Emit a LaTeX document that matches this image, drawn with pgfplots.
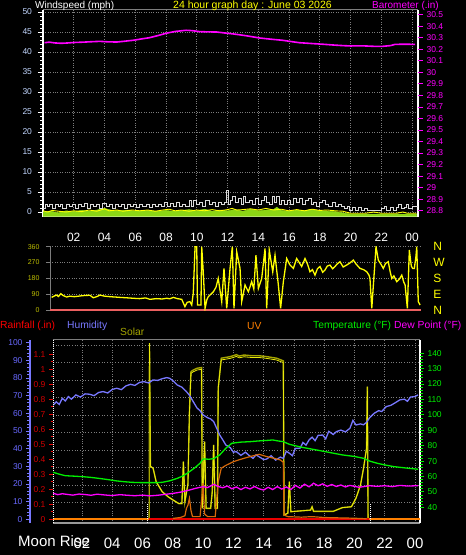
\documentclass[border=0pt]{standalone}
\usepackage{fontspec}
\setmainfont{Liberation Sans}
\usepackage{pgfplots}
\pgfplotsset{compat=1.18}
\definecolor{wblue}{RGB}{195,215,255}
\definecolor{hum}{RGB}{120,120,255}
\definecolor{humlab}{RGB}{105,105,255}
\definecolor{tempc}{RGB}{0,240,0}
\definecolor{dewc}{RGB}{255,0,255}
\definecolor{solc}{RGB}{235,235,10}
\definecolor{olivec}{RGB}{165,165,0}
\definecolor{uvc}{RGB}{215,105,10}
\definecolor{uvlab}{RGB}{255,128,0}
\definecolor{rainc}{RGB}{235,0,0}
\definecolor{rainlab}{RGB}{210,0,0}
\definecolor{gustc}{RGB}{220,220,220}
\definecolor{wgreen}{RGB}{140,215,20}
\definecolor{dirred}{RGB}{235,95,95}
\definecolor{gridc}{RGB}{125,125,125}
\definecolor{dirlab}{RGB}{190,190,0}
\definecolor{magc}{RGB}{255,0,255}
\definecolor{yel}{RGB}{255,255,0}
\pgfplotsset{
  panel/.style={scale only axis, anchor=south west,
    /pgf/number format/assume math mode=true,
    tick align=outside, clip mode=individual},
}
\begin{document}
\begin{tikzpicture}
\path[use as bounding box] (0pt,0pt) rectangle (466pt,555pt);
\fill[black] (0pt,0pt) rectangle (466pt,555pt);

% ---------------- TOP PANEL: wind ----------------
\begin{axis}[panel, at={(43pt,338.3pt)}, width=375pt, height=206.7pt,
  xmin=0, xmax=24.39, ymin=-1.17, ymax=50.5,
  axis line style={draw=none},
  xtick={2,4,...,24}, xticklabels={02,04,06,08,10,12,14,16,18,20,22,00},
  xtick style={draw=none}, xtick pos=bottom, ytick pos=left,
  xticklabel style={white, font=\fontsize{12}{12}\selectfont, yshift=-8pt},
  ytick={0,5,...,50}, minor y tick num=4,
  ytick style={white, line width=0.8pt},
  major tick length=5pt, minor tick length=3pt,
  yticklabel style={wblue, font=\fontsize{8.5}{8.5}\selectfont, xshift=-2.5pt},
  grid=major, grid style={gridc, dotted, line width=0.7pt},
]
\draw[gridc, line width=1pt] (rel axis cs:0,1) -- (rel axis cs:1,1);
\draw[white, line width=1.4pt] (rel axis cs:0,1) -- (rel axis cs:0,0) -- (rel axis cs:1,0) -- (rel axis cs:1,1);
% green area
\addplot[fill=wgreen, draw=wgreen, line width=0.5pt] coordinates {
(0,-1.17) (0,0.0) (0.5,0.2) (1,-0.2) (1.5,0.3) (2,0.1) (2.5,0.4) (3,0.2) (3.5,0.5) (4,0.9) (4.5,0.4) (5,0.3) (5.5,0.5) (6,0.2) (6.5,0.4) (7,0.3) (7.5,0.2) (8,0.4) (8.5,0.2) (9,0.4) (9.5,0.6) (10,0.3) (10.5,0.7) (11,0.2) (11.5,0.5) (12,0.3) (12.5,0.6) (13,0.2) (13.5,0.7) (14,0.3) (14.5,0.5) (15,0.6) (15.2,1.2) (15.5,0.4) (16,0.2) (16.5,0.5) (17,0.3) (17.5,0.7) (18,0.3) (18.5,0.2) (19,0.1) (19.5,-0.2) (20,-0.5) (24.3,-0.5) (24.3,-1.17)};
% gust
\addplot[gustc, const plot, line width=1pt] coordinates {
(0.0,1.0) (0.15,2.0) (0.3,1.5) (0.45,2.0) (0.6,1.0) (0.8,2.0) (1.0,1.5) (1.15,2.0) (1.3,1.0) (1.5,2.0) (1.7,1.5) (1.9,2.0) (2.1,1.0) (2.3,2.0) (2.5,1.5) (2.7,2.2) (2.9,1.0) (3.1,2.0) (3.3,1.5) (3.5,2.0) (3.7,1.0) (3.9,2.2) (4.1,1.5) (4.3,2.0) (4.5,1.0) (4.7,2.0) (4.9,1.5) (5.1,2.0) (5.3,1.0) (5.5,2.0) (5.7,1.5) (5.9,2.0) (6.1,1.2) (6.3,2.0) (6.5,1.5) (6.7,2.0) (6.9,1.2) (7.1,2.0) (7.3,1.5) (7.5,2.0) (7.7,1.5) (7.9,2.5) (8.1,1.5) (8.3,2.2) (8.5,1.5) (8.7,2.5) (8.9,1.5) (9.1,2.0) (9.3,1.5) (9.5,3.0) (9.65,1.5) (9.8,3.0) (10.0,2.0) (10.2,2.5) (10.4,1.5) (10.6,3.0) (10.8,2.0) (11.0,2.5) (11.2,1.5) (11.4,2.5) (11.6,2.0) (11.8,2.5) (11.95,5.5) (12.05,2.0) (12.2,3.0) (12.35,4.0) (12.5,2.5) (12.7,3.5) (12.9,2.0) (13.05,4.0) (13.2,2.5) (13.4,3.0) (13.6,2.0) (13.8,3.5) (14.0,2.0) (14.2,3.0) (14.4,4.0) (14.55,2.5) (14.7,2.0) (14.9,4.0) (15.05,2.5) (15.2,4.0) (15.35,2.0) (15.5,3.0) (15.7,2.0) (15.9,3.0) (16.1,2.0) (16.3,3.5) (16.5,2.5) (16.7,3.5) (16.9,2.0) (17.1,3.0) (17.3,3.5) (17.45,2.0) (17.6,2.5) (17.8,1.5) (18.0,2.5) (18.2,3.0) (18.4,2.0) (18.6,1.5) (18.8,2.5) (19.0,1.5) (19.2,2.0) (19.4,1.5) (19.6,0.8) (19.8,1.5) (19.95,0.5) (20.1,1.2) (20.3,0.5) (20.5,1.2) (20.7,0.5) (20.9,1.0) (21.1,0.5) (21.4,0.5) (21.7,0.5) (22.0,0.8) (22.2,1.5) (22.35,0.5) (22.6,1.2) (22.8,0.5) (23.0,1.2) (23.15,2.0) (23.3,1.0) (23.5,1.2) (23.65,2.0) (23.8,1.0) (24.0,1.5) (24.39,1.5)};
% average wind
\addplot[yel, line width=0.9pt] coordinates {
(0,0.3) (0.3,0.0) (0.6,0.4) (1.0,0.2) (1.5,0.0) (2.0,0.3) (2.5,0.1) (3.0,0.5) (3.5,0.2) (4.0,0.8) (4.3,0.3) (4.8,0.5) (5.2,0.2) (5.8,0.5) (6.3,0.3) (6.8,0.5) (7.3,0.2) (7.8,0.5) (8.2,0.7) (8.6,0.3) (9.0,0.5) (9.5,0.2) (10.0,0.5) (10.5,0.3) (11.0,0.6) (11.5,0.3) (12.0,0.6) (12.3,0.9) (12.6,0.5) (13.0,0.6) (13.5,0.8) (14.0,0.5) (14.5,0.9) (15.0,0.5) (15.5,0.7) (16.0,0.3) (16.5,0.6) (17.0,0.3) (17.5,0.7) (18.0,0.4) (18.5,0.5) (19.0,0.3) (19.5,0.2) (20.0,-0.3) (21.0,-0.3) (21.5,0.0) (22.0,-0.3) (23.0,-0.3) (23.4,0.0) (23.7,-0.3) (24.3,-0.3)};
\end{axis}

% barometer
\begin{axis}[panel, at={(43pt,338.3pt)}, width=375pt, height=206.7pt,
  xmin=0, xmax=24.39, ymin=28.748, ymax=30.541,
  axis x line=none, axis y line*=right, axis line style={draw=none},
  ytick={28.8,28.9,29,29.1,29.2,29.3,29.4,29.5,29.6,29.7,29.8,29.9,30,30.1,30.2,30.3,30.4,30.5},
  ytick style={magc, line width=0.8pt}, major tick length=5pt,
  yticklabel style={magc, font=\fontsize{8.5}{8.5}\selectfont},
]
\addplot[magc, line width=1.6pt] coordinates {
(0.1,30.257) (0.4,30.262) (0.8,30.255) (1.2,30.252) (1.6,30.255) (2.0,30.259) (2.6,30.262) (3.2,30.266) (3.7,30.269) (4.2,30.265) (4.8,30.263) (5.3,30.27) (5.85,30.278) (6.4,30.29) (6.9,30.30) (7.5,30.32) (8.0,30.339) (8.6,30.355) (9.3,30.365) (9.7,30.362) (10.2,30.353) (10.8,30.351) (11.3,30.35) (11.8,30.342) (12.4,30.333) (13.2,30.318) (14.1,30.298) (14.8,30.288) (15.6,30.278) (16.2,30.266) (16.7,30.257) (17.5,30.25) (18.2,30.244) (18.9,30.237) (19.5,30.232) (20.0,30.229) (20.8,30.23) (21.5,30.226) (22.1,30.226) (22.6,30.232) (22.9,30.243) (23.5,30.244) (24.2,30.243)};
\end{axis}

% ---------------- MIDDLE PANEL: wind direction ----------------
\begin{axis}[panel, at={(50pt,244pt)}, width=371pt, height=64.4pt,
  xmin=-0.11, xmax=24.39, ymin=-4, ymax=360.5,
  axis x line=none, axis y line*=left, axis line style={gridc, line width=0.8pt},
  ytick={0,90,180,270,360}, ymajorgrids, grid style={gridc, dotted, line width=0.7pt},
  ytick style={gridc, line width=0.8pt}, major tick length=4pt,
  yticklabel style={dirlab, font=\fontsize{7}{7}\selectfont, xshift=-3pt},
]
\addplot[dirred, line width=2pt] coordinates {(-0.11,0) (24.39,0)};
\addplot[yel, line width=1.3pt] coordinates {
(0.0,73) (0.15,80) (0.33,86) (0.45,78) (0.6,94) (0.75,84) (0.99,75) (1.2,80) (1.5,77) (1.87,81) (2.2,84) (2.53,85) (2.75,71) (3.0,78) (3.19,86) (3.5,80) (3.85,77) (4.2,75) (4.51,73) (4.9,71) (5.39,68) (5.8,66) (6.2,70) (6.49,62) (6.9,66) (7.3,64) (7.6,68) (7.8,65) (8.03,73) (8.3,66) (8.59,62) (8.8,21) (8.95,45) (9.13,49) (9.25,30) (9.35,96) (9.47,360) (9.58,360) (9.63,30) (9.86,30) (9.91,360) (10.01,218) (10.13,11) (10.25,60) (10.34,77) (10.5,90) (10.68,105) (10.85,130) (11.0,180) (11.23,49) (11.38,237) (11.56,11) (11.78,237) (11.93,360) (12.04,11) (12.22,331) (12.44,237) (12.55,49) (12.77,143) (12.99,105) (13.21,162) (13.35,120) (13.49,312) (13.65,124) (13.87,180) (14.09,350) (14.2,11) (14.37,341) (14.6,218) (14.75,312) (14.97,143) (15.12,11) (15.3,162) (15.52,293) (15.74,256) (15.96,237) (16.18,293) (16.35,270) (16.51,248) (16.73,293) (16.9,260) (17.06,218) (17.22,230) (17.39,199) (17.55,235) (17.72,248) (17.9,215) (18.05,228) (18.2,250) (18.38,256) (18.55,235) (18.71,248) (18.85,262) (19.04,275) (19.25,245) (19.48,256) (19.7,268) (19.92,284) (20.1,262) (20.36,237) (20.6,230) (20.81,218) (20.95,200) (21.02,180) (21.14,11) (21.29,199) (21.42,360) (21.57,284) (21.75,260) (21.9,237) (22.05,265) (22.23,275) (22.35,220) (22.46,180) (22.6,195) (22.79,162) (22.95,175) (23.12,199) (23.25,160) (23.34,143) (23.49,11) (23.62,341) (23.75,250) (23.84,237) (23.95,237) (24.05,300) (24.11,360) (24.21,49) (24.33,30)};
\end{axis}
\begin{axis}[panel, at={(50pt,244pt)}, width=371pt, height=64.4pt,
  xmin=-0.11, xmax=24.39, ymin=-4, ymax=360.5,
  axis x line=none, axis y line*=right, axis line style={draw=none},
  ytick={0,90,180,270,360}, yticklabels={N,E,S,W,N}, ytick style={draw=none},
  yticklabel style={yel, font=\fontsize{12}{12}\selectfont, xshift=4.5pt},
]
\end{axis}

% ---------------- BOTTOM PANEL ----------------
% humidity scale
\begin{axis}[panel, at={(30pt,32pt)}, width=23pt, height=183pt,
  xmin=0, xmax=1, ymin=-2.1, ymax=101.5,
  axis x line=none, axis y line*=left, axis line style={hum, line width=2.5pt},
  ytick={0,10,...,100}, minor y tick num=4, ytick style={hum, line width=0.8pt},
  major tick length=4pt, minor tick length=2.5pt,
  yticklabel style={humlab, font=\fontsize{8.5}{8.5}\selectfont},
]
\end{axis}
% main (humidity units) with solar and uv
\begin{axis}[panel, at={(53pt,32pt)}, width=367pt, height=183pt,
  xmin=0.086, xmax=24.33, ymin=-2.1, ymax=101.5,
  axis line style={draw=none}, axis y line=none,
  xtick={2,4,...,24}, xticklabels={02,04,06,08,10,12,14,16,18,20,22,00},
  xtick style={draw=none}, xtick pos=bottom,
  xticklabel style={white, font=\fontsize{15}{15}\selectfont, yshift=-7pt},
  xmajorgrids, grid style={gridc, dotted, line width=0.7pt},
]
\pgfplotsinvokeforeach{9.4,19.3,29.2,39.1,49,58.9,68.8,78.7,88.6,98.5}{
  \draw[gridc, dotted, line width=0.7pt] (axis cs:0.086,#1) -- (axis cs:24.33,#1);
}
\draw[gridc, line width=1pt] (rel axis cs:0,1) -- (rel axis cs:1,1);
\draw[gray!80!white, line width=1.6pt] (rel axis cs:0,0) -- (rel axis cs:1,0);
\draw[white, line width=1.8pt] (rel axis cs:1,0) -- (rel axis cs:1,1);
% solar (olive shadow + yellow)
\addplot[olivec, line width=1.4pt] coordinates {
(0.09,0) (6.44,0) (6.46,99.7) (6.52,30) (6.7,28.9) (6.9,21.3) (7.3,15.6) (7.7,12.7) (8.0,11) (8.4,8.9) (8.6,8.9) (8.7,32.6) (8.8,10) (9.0,20) (9.1,61) (9.2,83.6) (9.35,84.5) (9.6,85.5) (9.9,85.9) (9.95,6.2) (10.1,43.9) (10.2,6.2) (10.5,6.2) (10.6,15) (10.7,42.1) (10.8,6.2) (10.95,6.2) (11.0,74.2) (11.2,91.2) (11.8,92.1) (12.2,93.2) (12.4,92.4) (12.7,93) (13.2,92.6) (13.7,92.6) (14.2,92.1) (14.85,91.2) (15.3,89.7) (15.35,2.4) (15.6,3.5) (15.7,21.3) (15.8,4.3) (16.5,4.8) (17.1,5.2) (17.2,7.1) (17.3,4.5) (18.6,4.5) (19.2,6.6) (19.8,7.1) (20.1,11.9) (20.4,19.4) (20.6,28.9) (20.8,40.2) (20.85,75.1) (20.9,0) (24.33,0)};
\addplot[solc, line width=0.8pt] coordinates {
(6.46,99.7) (6.52,30) (6.7,28.9) (6.9,21.3) (7.3,15.6) (7.7,12.7) (8.0,11) (8.4,8.9) (8.6,8.9) (8.7,32.6) (8.8,10) (9.0,20) (9.1,61) (9.2,82.6) (9.35,83.5) (9.6,84.5) (9.9,84.9) (9.95,6.2) (10.1,43.9) (10.2,6.2) (10.5,6.2) (10.6,15) (10.7,42.1) (10.8,6.2) (10.95,6.2) (11.0,74.2) (11.2,90.2) (11.8,91.1) (12.2,92.2) (12.4,91.4) (12.7,92) (13.2,91.6) (13.7,91.6) (14.2,91.1) (14.85,90.2) (15.3,88.7) (15.35,2.4) (15.6,3.5) (15.7,21.3) (15.8,4.3) (16.5,4.8) (17.1,5.2) (17.2,7.1) (17.3,4.5) (18.6,4.5) (19.2,6.6) (19.8,7.1) (20.1,11.9) (20.4,19.4) (20.6,28.9) (20.8,40.2) (20.85,75.1) (20.9,0)};
% humidity
\addplot[hum, line width=1.3pt] coordinates {
(0.1,64.7) (0.3,66.5) (0.5,65) (0.7,68.5) (0.9,67) (1.1,69.5) (1.3,68) (1.6,70.4) (1.9,69.2) (2.2,71) (2.5,70.8) (2.8,70) (3.1,71.8) (3.4,72.3) (3.7,71.5) (4.0,73.5) (4.3,74.2) (4.6,73.4) (4.9,75.5) (5.2,76.4) (5.5,75.8) (5.8,77.5) (6.1,77.9) (6.4,77.2) (6.7,78.9) (7.0,78.6) (7.3,79.6) (7.6,80.2) (7.8,79.8) (8.0,78.5) (8.3,76) (8.6,74.8) (8.9,72.3) (9.1,70.2) (9.35,66.6) (9.6,63) (9.8,61.5) (10.0,59.1) (10.3,57.5) (10.5,56.8) (10.7,55.3) (10.9,51.5) (11.1,47.7) (11.3,45) (11.5,42.1) (11.8,40.5) (12.0,38) (12.2,38.3) (12.5,36.2) (12.8,38) (13.0,36.4) (13.3,34.5) (13.5,36.5) (13.7,35.4) (14.0,33.8) (14.2,34.1) (14.5,36) (14.8,33.5) (15.1,35.2) (15.3,34.5) (15.5,38.5) (15.7,37.4) (15.9,36) (16.1,40.2) (16.4,40.2) (16.6,43.5) (16.8,42) (17.0,44.9) (17.2,46.5) (17.4,44.5) (17.6,47.5) (17.9,47.7) (18.1,45.5) (18.3,49.8) (18.6,48) (18.8,49.6) (19.1,50.5) (19.4,49.5) (19.7,51.5) (19.9,56) (20.1,53.4) (20.4,54) (20.6,53.5) (20.8,54.9) (21.0,57.5) (21.3,60.0) (21.6,61.5) (21.8,61) (22.1,63.8) (22.4,64.5) (22.7,66) (23.0,67.6) (23.3,68) (23.5,66.8) (23.7,69.2) (24.0,69.5) (24.2,70.4)};
% rain (0)
\addplot[rainc, line width=2pt] coordinates {(6.4,0) (20.95,0)};
% UV
\addplot[uvc, line width=1.2pt] coordinates {
(8.0,0.5) (8.5,1) (8.8,2) (8.9,6.2) (9.0,8) (9.1,11.9) (9.2,5) (9.3,1.5) (9.8,1.5) (10.0,20.4) (10.1,3) (10.3,1.5) (10.8,1.5) (11.0,21.3) (11.2,28.9) (11.5,30.5) (12.0,32.6) (12.5,34) (13.1,35.5) (13.7,36.8) (14.2,35.5) (14.7,34.5) (15.1,33.6) (15.3,32.3) (15.35,2.4) (15.6,1.5) (16.5,1.2) (17.2,1.5) (18.0,1) (19.0,0.8) (20.0,0.6) (20.8,0.3)};
\addplot[uvlab, line width=2pt] coordinates {(0.086,0) (6.4,0)};
\addplot[uvlab, line width=2pt] coordinates {(20.95,0) (24.33,0)};
% sunrise / sunset markers
\addplot[white, densely dotted, line width=1pt] coordinates {(6.34,-2) (6.34,8.5)};
\addplot[white, densely dotted, line width=1pt] coordinates {(21.07,-2) (21.07,8.5)};
\end{axis}
% rain scale (left frame)
\begin{axis}[panel, at={(53pt,32pt)}, width=367pt, height=183pt,
  xmin=0.086, xmax=24.33, ymin=-0.0246, ymax=1.1956,
  axis x line=none, axis y line*=left, axis line style={white, densely dotted, line width=1pt},
  ytick={0,0.1,0.2,0.3,0.4,0.5,0.6,0.7,0.8,0.9,1,1.1}, minor y tick num=1,
  ytick style={rainc, solid, line width=0.8pt}, major tick length=4pt, minor tick length=2.5pt,
  yticklabel style={rainlab, font=\fontsize{8.5}{8.5}\selectfont},
]
\end{axis}
% temperature / dew point
\begin{axis}[panel, at={(53pt,32pt)}, width=367pt, height=183pt,
  xmin=0.086, xmax=24.33, ymin=29.8, ymax=148.6,
  axis x line=none, axis y line*=right, axis line style={draw=none},
  ytick={40,50,...,140}, minor y tick num=4,
  ytick style={tempc, line width=0.8pt}, major tick length=4pt, minor tick length=2.5pt,
  yticklabel style={tempc, font=\fontsize{8.5}{8.5}\selectfont},
]
\addplot[tempc, line width=1.3pt] coordinates {
(0.1,62.7) (0.5,61.5) (0.9,60.5) (1.5,60.2) (2.0,59.9) (2.5,59.5) (3.1,58.8) (3.7,58) (4.3,57.1) (4.8,56.6) (5.3,56.2) (5.9,56.0) (6.4,56.0) (6.9,56.0) (7.3,56.2) (7.8,57.2) (8.3,58.8) (8.7,60.5) (9.1,63.1) (9.5,66) (9.8,68.6) (10.0,71.4) (10.4,71.2) (10.7,71.6) (11.1,74) (11.5,78.3) (11.9,81.6) (12.5,82.3) (13.1,82.6) (13.7,83.1) (14.2,83.4) (14.6,83.7) (15.0,83.0) (15.3,82.6) (15.7,80.9) (16.5,79) (17.5,77.2) (18.4,75.5) (19.2,74) (20.0,73) (20.6,71.8) (21.0,70) (21.5,68.6) (22.0,67.5) (22.6,66.4) (23.4,65.5) (24.2,64.7)};
\addplot[dewc, line width=1.3pt] coordinates {
(0.1,49.1) (0.4,48.2) (0.7,48.8) (1.0,48.4) (1.4,47.9) (1.8,48.6) (2.2,48.3) (2.6,47.8) (3.0,48.5) (3.5,48) (4.0,47.6) (4.5,48.2) (5.0,47.8) (5.5,47.5) (6.0,47.9) (6.5,47.4) (7.0,47.8) (7.5,48.4) (8.0,49) (8.5,49.8) (9.1,51.2) (9.5,52.3) (10.0,53.4) (10.3,52.8) (10.7,54.9) (11.0,53.5) (11.3,52.7) (11.6,53.8) (11.9,52) (12.2,53.2) (12.5,51.5) (12.8,53) (13.1,51.9) (13.4,53.5) (13.7,52) (14.0,51.2) (14.3,53) (14.6,51.5) (14.9,53.4) (15.2,51.8) (15.5,53.2) (15.8,51.5) (16.1,54.2) (16.4,52.5) (16.7,55) (17.0,53.3) (17.3,55.6) (17.6,54) (17.9,55.2) (18.2,53.6) (18.5,54.8) (18.8,53.5) (19.1,54.5) (19.4,53.2) (19.7,54.2) (20.0,53.6) (20.3,53) (20.6,53.4) (21.0,54) (21.5,53.6) (22.0,54) (22.5,53.4) (23.0,54.2) (23.5,53.8) (24.2,54)};
\end{axis}

% ---------------- headers ----------------
\node[anchor=west, inner sep=0pt, white, font=\fontsize{10}{10}\selectfont] at (35pt,549pt) {Windspeed (mph)};
\node[inner sep=0pt, yel, font=\fontsize{10.5}{10.5}\selectfont] at (252.5pt,549pt) {24 hour graph day : June 03 2026};
\node[anchor=east, inner sep=0pt, magc, font=\fontsize{10}{10}\selectfont] at (439pt,549pt) {Barometer (.in)};
\node[anchor=west, inner sep=0pt, red, font=\fontsize{10.3}{10.3}\selectfont] at (0pt,229pt) {Rainfall (.in)};
\node[anchor=west, inner sep=0pt, hum, font=\fontsize{10.3}{10.3}\selectfont] at (67pt,229pt) {Humidity};
\node[anchor=west, inner sep=0pt, olivec, font=\fontsize{10.3}{10.3}\selectfont] at (120pt,223pt) {Solar};
\node[anchor=west, inner sep=0pt, uvlab, font=\fontsize{10.3}{10.3}\selectfont] at (247pt,229pt) {UV};
\node[anchor=west, inner sep=0pt, tempc, font=\fontsize{10.3}{10.3}\selectfont] at (313pt,229pt) {Temperature (°F)};
\node[anchor=west, inner sep=0pt, magc, font=\fontsize{10.3}{10.3}\selectfont] at (394pt,229pt) {Dew Point (°F)};
\node[anchor=west, inner sep=0pt, white, font=\fontsize{15}{15}\selectfont] at (18pt,14pt) {Moon Rise};
\end{tikzpicture}
\end{document}
